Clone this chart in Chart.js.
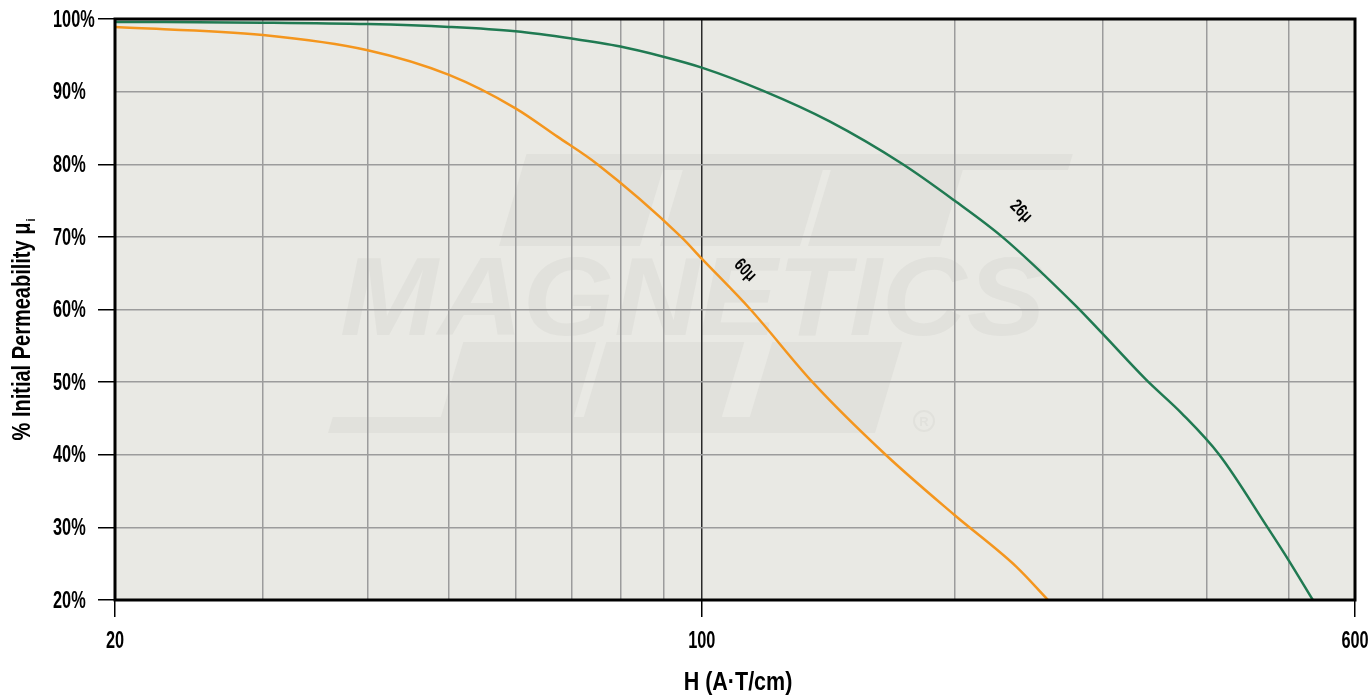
<!DOCTYPE html>
<html lang="en">
<head>
    <meta charset="UTF-8">
    <title>Initial Permeability vs H</title>
    <script src="https://cdn.jsdelivr.net/npm/chart.js"></script>
    <style>
        html, body { margin: 0; padding: 0; background: #ffffff; }
        .chart-wrapper { width: 1370px; height: 700px; position: relative; }
    </style>
</head>
<body>
    <div class="chart-wrapper">
        <canvas id="permChart"></canvas>
    </div>

    <script>
        // H (A·T/cm) and % of initial permeability
        const h26 = [20, 30, 40, 50, 60, 70, 80, 90, 100, 118.4, 142, 173.6, 200, 228, 279, 300, 338.5, 373, 413.5, 472, 500, 534.5];
        const perm26 = [99.6, 99.5, 99.3, 98.9, 98.3, 97.3, 96.2, 94.8, 93.3, 90.1, 85.9, 80, 75, 70, 60.5, 56.7, 50.3, 45.7, 40, 30, 25.5, 20];

        const h60 = [20, 30, 40, 50, 60, 67.3, 75.1, 94.5, 100, 114.3, 135.5, 165.6, 200, 236.9, 258.5];
        const perm60 = [98.9, 97.8, 95.7, 92.3, 87.7, 83.8, 80, 70, 67, 60, 50, 40, 31.7, 24.6, 20];

        const xTicks = [20, 30, 40, 50, 60, 70, 80, 90, 100, 200, 300, 400, 500, 600];
        const xLabelled = [20, 100, 600];
        const yTicks = [20, 30, 40, 50, 60, 70, 80, 90, 100];

        const FONT = '"Liberation Sans", Arial, sans-serif';

        // narrow text: the original uses a condensed face, so squeeze a regular one
        function narrowText(ctx, txt, x, y, size, sx, align) {
            ctx.save();
            ctx.font = 'bold ' + size + 'px ' + FONT;
            ctx.translate(x, y);
            ctx.scale(sx, 1);
            ctx.textAlign = align;
            ctx.textBaseline = 'middle';
            ctx.fillText(txt, 0, 0);
            ctx.restore();
        }

        // plot background + faint logo watermark
        const backdrop = {
            id: 'backdrop',
            beforeDraw(chart) {
                const { ctx, chartArea: a } = chart;
                ctx.save();
                ctx.fillStyle = '#e9e9e4';
                ctx.fillRect(a.left, a.top, a.right - a.left, a.bottom - a.top);

                ctx.fillStyle = '#e1e1dc';
                const k = 0.3;
                const para = (x0, x1, yTop, yBot) => {
                    const s = (yBot - yTop) * k;
                    ctx.beginPath();
                    ctx.moveTo(x0 + s, yTop);
                    ctx.lineTo(x1 + s, yTop);
                    ctx.lineTo(x1, yBot);
                    ctx.lineTo(x0, yBot);
                    ctx.closePath();
                    ctx.fill();
                };
                // upper band
                para(499, 640, 154, 246);
                para(660, 800, 154, 246);
                para(808, 940, 154, 246);
                para(522, 1068, 154, 170);
                // lower band
                para(436, 569, 342, 433);
                para(579, 717, 342, 433);
                para(745, 875, 342, 433);
                para(328, 853, 417, 433);

                ctx.font = 'italic bold 112px ' + FONT;
                ctx.textBaseline = 'alphabetic';
                const w = ctx.measureText('MAGNETICS').width;
                ctx.translate(340, 335);
                ctx.scale(705 / w, 1);
                ctx.fillText('MAGNETICS', 0, 0);
                ctx.restore();

                ctx.save();
                ctx.strokeStyle = '#e1e1dc';
                ctx.fillStyle = '#e1e1dc';
                ctx.lineWidth = 2;
                ctx.beginPath();
                ctx.arc(924, 421, 10, 0, Math.PI * 2);
                ctx.stroke();
                ctx.font = 'bold 13px ' + FONT;
                ctx.textAlign = 'center';
                ctx.textBaseline = 'middle';
                ctx.fillText('R', 924, 422);
                ctx.restore();
            }
        };

        // frame, tick labels, curve labels, axis titles
        const annotations = {
            id: 'annotations',
            afterDraw(chart) {
                const { ctx, chartArea: a, scales } = chart;
                ctx.save();
                ctx.strokeStyle = '#000';
                ctx.lineWidth = 3;
                ctx.strokeRect(a.left, a.top, a.right - a.left, a.bottom - a.top);
                ctx.fillStyle = '#000';

                yTicks.forEach(v => {
                    narrowText(ctx, v + '%', 53, scales.y.getPixelForValue(v) + 1, 24, 0.68, 'left');
                });
                xLabelled.forEach(v => {
                    narrowText(ctx, String(v), scales.x.getPixelForValue(v), 641, 24, 0.68, 'center');
                });

                const tag = (txt, h, v) => {
                    ctx.save();
                    ctx.translate(scales.x.getPixelForValue(h), scales.y.getPixelForValue(v));
                    ctx.rotate(Math.PI / 4);
                    narrowText(ctx, txt, 0, 0, 18, 0.75, 'center');
                    ctx.restore();
                };
                tag('60μ', 112.6, 65.4);
                tag('26μ', 240, 73.5);

                // x title
                narrowText(ctx, 'H (A·T/cm)', (a.left + a.right) / 2 + 3, 683, 25, 0.86, 'center');

                // y title with subscript i
                ctx.save();
                ctx.translate(23, 329);
                ctx.rotate(-Math.PI / 2);
                ctx.font = 'bold 25px ' + FONT;
                const main = '% Initial Permeability μ';
                const sx = 0.8;
                const mw = ctx.measureText(main).width * sx;
                const sw = 5;
                const start = -(mw + sw) / 2;
                narrowText(ctx, main, start, 0, 25, sx, 'left');
                narrowText(ctx, 'i', start + mw + 1, 8, 13, sx, 'left');
                ctx.restore();

                ctx.restore();
            }
        };

        const ctx = document.getElementById('permChart').getContext('2d');
        new Chart(ctx, {
            type: 'line',
            data: {
                datasets: [
                    {
                        label: '26μ',
                        data: h26.map((h, i) => ({ x: h, y: perm26[i] })),
                        borderColor: '#207a52',
                        borderWidth: 2.5,
                        pointRadius: 0,
                        cubicInterpolationMode: 'monotone',
                        fill: false
                    },
                    {
                        label: '60μ',
                        data: h60.map((h, i) => ({ x: h, y: perm60[i] })),
                        borderColor: '#f4961e',
                        borderWidth: 2.5,
                        pointRadius: 0,
                        cubicInterpolationMode: 'monotone',
                        fill: false
                    }
                ]
            },
            options: {
                responsive: true,
                maintainAspectRatio: false,
                animation: false,
                layout: { padding: { left: 53, right: 15, top: 19, bottom: 0 } },
                plugins: {
                    legend: { display: false },
                    tooltip: { enabled: false }
                },
                scales: {
                    x: {
                        type: 'logarithmic',
                        min: 20,
                        max: 600,
                        afterBuildTicks: s => { s.ticks = xTicks.map(v => ({ value: v })); },
                        afterFit: s => { s.height = 100; },
                        border: { display: false },
                        grid: {
                            color: c => c.tick && c.tick.value === 100 ? '#2a2a2a' : '#9c9c9c',
                            lineWidth: 1.5,
                            tickColor: c => c.tick && xLabelled.includes(c.tick.value) ? '#000' : 'rgba(0,0,0,0)',
                            tickLength: 17,
                            drawTicks: true
                        },
                        ticks: { display: false }
                    },
                    y: {
                        type: 'linear',
                        min: 20,
                        max: 100,
                        afterBuildTicks: s => { s.ticks = yTicks.map(v => ({ value: v })); },
                        afterFit: s => { s.width = 62; },
                        border: { display: false },
                        grid: {
                            color: '#9c9c9c',
                            lineWidth: 1.5,
                            tickColor: c => c.tick && c.tick.value === 90 ? 'rgba(0,0,0,0)' : '#000',
                            tickLength: 17,
                            drawTicks: true
                        },
                        ticks: { display: false }
                    }
                }
            },
            plugins: [backdrop, annotations]
        });
    </script>
</body>
</html>
